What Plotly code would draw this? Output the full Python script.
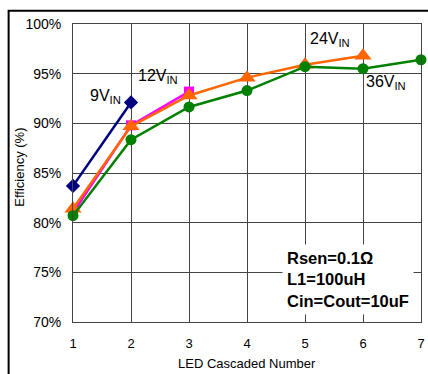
import plotly.graph_objects as go

x_vals = [1, 2, 3, 4, 5, 6, 7]
v9 = [83.7, 92.1]
v12 = [81.0, 89.8, 93.2]
v24 = [81.4, 89.7, 92.8, 94.6, 95.9, 96.8]
v36 = [80.7, 88.35, 91.65, 93.3, 95.7, 95.5, 96.4]
y_ticks = [70, 75, 80, 85, 90, 95, 100]
y_tick_text = [f"{v}%" for v in y_ticks]

FONT = "Liberation Sans, Arial, sans-serif"

fig = go.Figure()
series = [
    (v9, "#000080", "diamond", 11),
    (v12, "#FF00FF", "square", 10),
    (v24, "#FF6600", "triangle-up", 15),
    (v36, "#008000", "circle", 11),
]
for vals, col, sym, sz in series:
    fig.add_trace(go.Scatter(
        x=x_vals[:len(vals)], y=vals, mode="lines+markers",
        line=dict(color=col, width=2.5),
        marker=dict(color=col, symbol=sym, size=sz, line=dict(width=0)),
        showlegend=False, cliponaxis=False,
    ))

labels = [
    ("9V<sub>IN</sub>", 1.25, 92.7),
    ("12V<sub>IN</sub>", 2.08, 94.7),
    ("24V<sub>IN</sub>", 5.05, 98.4),
    ("36V<sub>IN</sub>", 6.02, 94.1),
]
for txt, lx, ly in labels:
    fig.add_annotation(x=lx, y=ly, text=txt, showarrow=False, xanchor="left",
                       yanchor="middle", font=dict(family=FONT, size=16, color="#000"))

fig.add_annotation(
    x=4.6, y=74.3, xanchor="left", yanchor="middle",
    text="<b>Rsen=0.1Ω<br>L1=100uH<br>Cin=Cout=10uF</b>",
    showarrow=False, align="left", bgcolor="white", borderpad=4,
    font=dict(family=FONT, size=16.5, color="#000"),
)

# axis titles
fig.add_annotation(x=-0.156, y=0.52, xref="paper", yref="paper", text="Efficiency (%)",
                   textangle=-90, showarrow=False, xanchor="center", yanchor="middle",
                   font=dict(family=FONT, size=13, color="#000"))
fig.add_annotation(x=0.5, y=-0.139, xref="paper", yref="paper", text="LED Cascaded Number",
                   showarrow=False, xanchor="center", yanchor="middle",
                   font=dict(family=FONT, size=13, color="#000"))

fig.add_shape(type="rect", xref="paper", yref="paper",
              x0=-0.185, x1=1.08, y0=-0.3, y1=1.0447,
              line=dict(color="#000", width=2), layer="below")

fig.update_layout(
    width=428, height=374,
    margin=dict(l=73, r=3, t=24, b=52),
    paper_bgcolor="white", plot_bgcolor="white",
    font=dict(family=FONT, size=13, color="#000"),
    xaxis=dict(range=[1, 7], tickvals=x_vals, showgrid=True, gridcolor="#444",
               gridwidth=1, showline=True, mirror=True, linecolor="#444",
               zeroline=False, ticks="", ticklabelstandoff=9,
               ticklabeloverflow="allow", tickfont=dict(size=13)),
    yaxis=dict(range=[70, 100], tickvals=y_ticks, ticktext=y_tick_text,
               showgrid=True, gridcolor="#444", gridwidth=1, showline=True,
               mirror=True, linecolor="#444", zeroline=False, ticks="",
               ticklabelstandoff=8, tickfont=dict(size=14)),
)

fig.write_html("out.html")
